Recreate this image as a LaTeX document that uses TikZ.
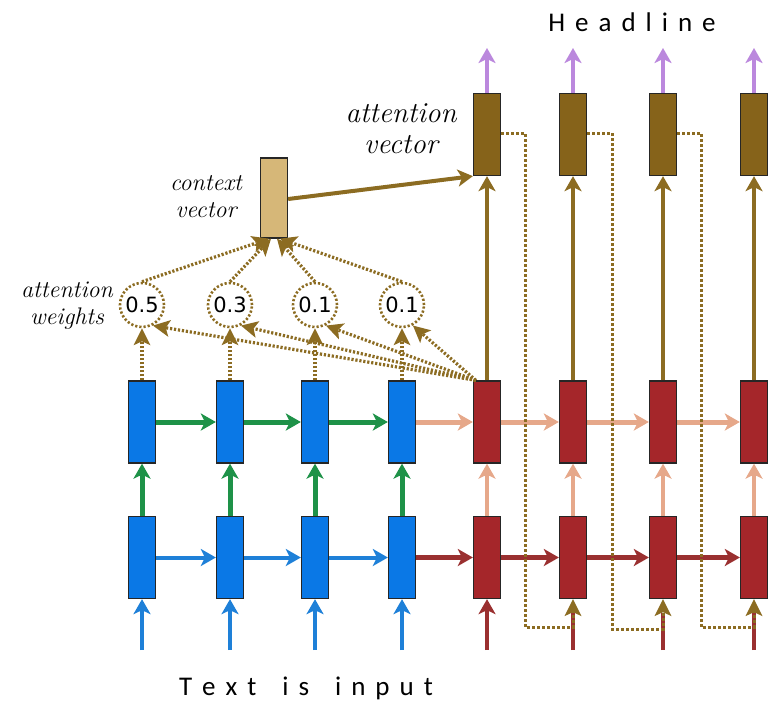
\documentclass[tikz,border=0pt]{standalone}
\usepackage{fontspec}
\newfontfamily\labelfont{Carlito}
\newfontfamily\numfont{DejaVu Sans}
\usetikzlibrary{arrows.meta,calc}
\definecolor{cblue}{HTML}{0A78E6}
\definecolor{cbluear}{HTML}{1E80D8}
\definecolor{cgreen}{HTML}{1E9248}
\definecolor{cred}{HTML}{A5262A}
\definecolor{credar}{HTML}{9A3030}
\definecolor{csalmon}{HTML}{E6A88A}
\definecolor{cbrown}{HTML}{86631A}
\definecolor{cbrownar}{HTML}{8C6C22}
\definecolor{ctan}{HTML}{D6B778}
\definecolor{cpurple}{HTML}{BB88DD}
\begin{document}
\begin{tikzpicture}[x=1pt,y=-1pt,
  cell/.style={draw=black!85,line width=1.3pt,minimum width=27pt,minimum height=82pt,inner sep=0pt},
  bluecell/.style={cell,fill=cblue},
  redcell/.style={cell,fill=cred},
  avcell/.style={cell,fill=cbrown},
  arr/.style={line width=5pt,-{Stealth[length=15pt,width=17pt,inset=4pt]}},
  thinarr/.style={line width=4pt,-{Stealth[length=15pt,width=17pt,inset=4pt]}},
  dotarr/.style={cbrownar,line width=3.2pt,dash pattern=on 2.2pt off 1.8pt,-{Stealth[length=17pt,width=17pt,inset=4pt,line width=0pt]}},
  fbarr/.style={cbrownar,line width=3pt,dash pattern=on 2.5pt off 2.5pt,-{Stealth[length=17pt,width=17pt,inset=4pt,line width=0pt]}},
  wcirc/.style={circle,draw=cbrownar,line width=2.6pt,dash pattern=on 2.2pt off 2pt,minimum size=44pt,inner sep=0pt},
  numtxt/.style={font=\numfont\fontsize{21}{21}\selectfont},
  lbl/.style={align=center}
]
\useasboundingbox (0,0) rectangle (775,702);
% columns
\foreach \i/\x in {1/142,2/230,3/315,4/402}{
  \node[bluecell] (bt\i) at (\x,422) {};
  \node[bluecell] (bb\i) at (\x,557.5) {};
  \coordinate (in\i) at (\x,650);
  \node[wcirc] (w\i) at (\x,305) {};
}
\foreach \i/\x in {1/487,2/573,3/663,4/754}{
  \node[redcell] (rt\i) at (\x,422) {};
  \node[redcell] (rb\i) at (\x,557.5) {};
  \node[avcell] (av\i) at (\x,134.5) {};
  \coordinate (rin\i) at (\x,650);
  \coordinate (out\i) at (\x,48);
}
\node[numtxt] (n1) at (w1) {0.5};
\node[numtxt] (n2) at (w2) {0.3};
\node[numtxt] (n3) at (w3) {0.1};
\node[numtxt] (n4) at (w4) {0.1};
\node[cell,fill=ctan,minimum height=80pt] (ctx) at (274,198) {};
% texts
\node[font=\labelfont\fontsize{27}{27}\selectfont] (head) at (632,22)
  {H\hspace{10pt}e\hspace{10pt}a\hspace{10pt}d\hspace{10pt}l\hspace{10pt}i\hspace{10pt}n\hspace{10pt}e};
\node[font=\labelfont\fontsize{27}{27}\selectfont] (txt) at (306,688)
  {T\hspace{10pt}e\hspace{10pt}x\hspace{10pt}t\hspace{26pt}i\hspace{10pt}s\hspace{26pt}i\hspace{10pt}n\hspace{10pt}p\hspace{10pt}u\hspace{10pt}t};
\node[lbl,font=\itshape\fontsize{29}{31}\selectfont] (avl) at (401,129) {attention\\vector};
\node[lbl,font=\itshape\fontsize{24}{27}\selectfont] (ctxl) at (206,197) {context\\vector};
\node[lbl,font=\itshape\fontsize{24}{27}\selectfont] (awl) at (67,306) {attention\\weights};
% inputs
\foreach \i in {1,2,3,4}{
  \draw[thinarr,cbluear] (in\i) -- (bb\i.south);
  \draw[arr,cgreen] (bb\i.north) -- (bt\i.south);
}
\draw[thinarr,credar] (rin1) -- (rb1.south);
\foreach \i in {2,3,4}{
  \draw[credar,line width=4pt] (rin\i) -- ($(rb\i.south)+(0,14)$);
}
\foreach \i in {1,2,3,4}{
  \draw[thinarr,csalmon] (rb\i.north) -- (rt\i.south);
  \draw[thinarr,cbrownar] (rt\i.north) -- (av\i.south);
  \draw[thinarr,cpurple] (av\i.north) -- (out\i);
}
% horizontal
\foreach \a/\b in {1/2,2/3,3/4}{
  \draw[arr,cgreen] (bt\a.east) -- (bt\b.west);
  \draw[thinarr,cbluear] (bb\a.east) -- (bb\b.west);
  \draw[arr,csalmon] (rt\a.east) -- (rt\b.west);
  \draw[arr,credar] (rb\a.east) -- (rb\b.west);
}
\draw[arr,csalmon] (bt4.east) -- (rt1.west);
\draw[arr,credar] (bb4.east) -- (rb1.west);
% feedback dotted
\draw[fbarr] (av1.east |- 0,133) -| (525,627) -| (rb2.south);
\draw[fbarr] (av2.east |- 0,133) -| (612,629) -| (rb3.south);
\draw[fbarr] (av3.east |- 0,133) -| (701,627) -| (rb4.south);
% attention
\coordinate (rtl) at ($(rt1.north west)+(3,0)$);
\foreach \i in {1,2,3,4}{
  \draw[dotarr] (bt\i.north) -- (w\i.south);
  \draw[dotarr] (rtl) -- (w\i.-62);
}
\draw[dotarr] (w1.north) -- ($(ctx.south)+(-5,0)$);
\draw[dotarr] (w2.north) -- ($(ctx.south)+(-3,0)$);
\draw[dotarr] (w3.north) -- ($(ctx.south)+(3,0)$);
\draw[dotarr] (w4.north) -- ($(ctx.south)+(6,0)$);
% context to attention
\draw[thinarr,cbrownar] (ctx.east |- 0,199) -- (av1.south west);
\end{tikzpicture}
\end{document}
